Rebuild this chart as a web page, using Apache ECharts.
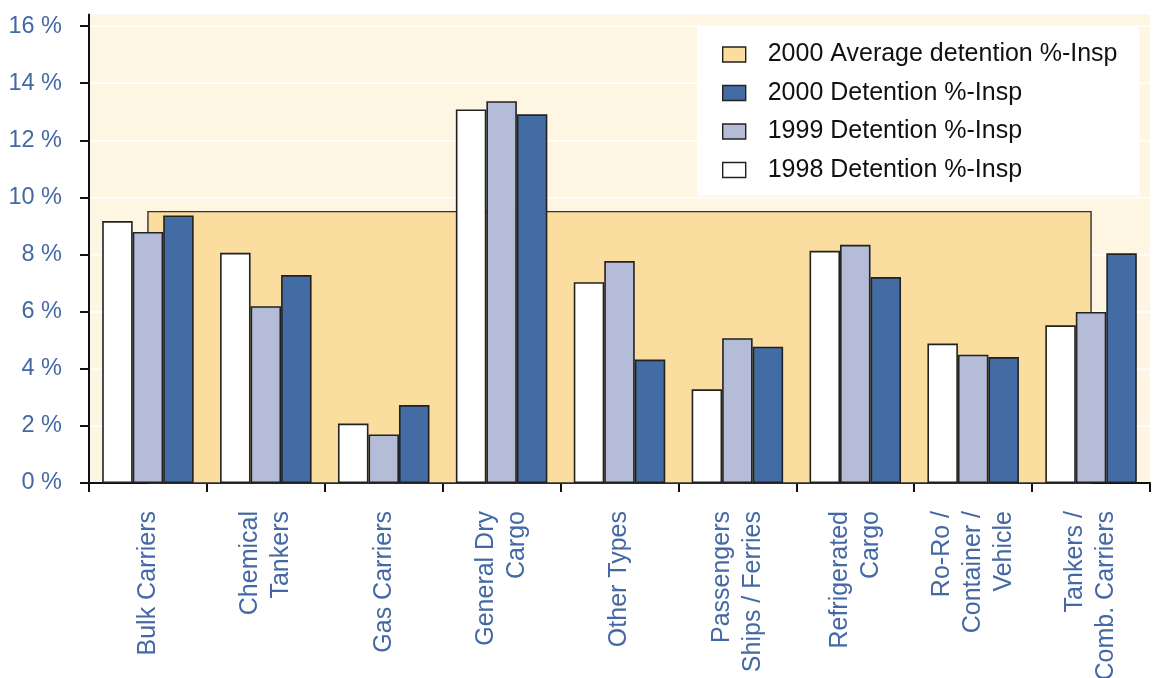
<!DOCTYPE html>
<html>
<head>
<meta charset="utf-8">
<script src="https://cdn.jsdelivr.net/npm/echarts@6/dist/echarts.min.js"></script>
<style>
  html, body { margin: 0; padding: 0; background: #ffffff; }
  #chart { width: 1154px; height: 678px; }
</style>
</head>
<body>
<div id="chart"></div>
<script>
// Ship types (line breaks are part of the axis labels)
const categories = [
  'Bulk Carriers',
  'Chemical\nTankers',
  'Gas Carriers',
  'General Dry\nCargo',
  'Other Types',
  'Passengers\nShips / Ferries',
  'Refrigerated\nCargo',
  'Ro-Ro /\nContainer /\nVehicle',
  'Tankers /\nComb. Carriers'
];

// Detention rate as % of inspections
const detention1998 = [9.17, 8.06, 2.08, 13.08, 7.03, 3.28, 8.13, 4.88, 5.52];
const detention1999 = [8.79, 6.19, 1.70, 13.37, 7.77, 5.07, 8.34, 4.49, 5.99];
const detention2000 = [9.37, 7.28, 2.73, 12.91, 4.32, 4.77, 7.21, 4.41, 8.04];
const average2000   = [9.5, 9.5, 9.5, 9.5, 9.5, 9.5, 9.5, 9.5, 9.5];

const yTicks = [0, 2, 4, 6, 8, 10, 12, 14, 16];

const seriesNames = {
  avg: '2000 Average detention %-Insp',
  d2000: '2000 Detention %-Insp',
  d1999: '1999 Detention %-Insp',
  d1998: '1998 Detention %-Insp'
};

const FONT = '"Liberation Sans", Arial, Helvetica, sans-serif';
const LABEL_BLUE = '#4468a6';
const EDGE = '#222222';

const chart = echarts.init(document.getElementById('chart'), null, { renderer: 'canvas' });

const barStyle = (fill) => ({ color: fill, borderColor: EDGE, borderWidth: 1.6 });

chart.setOption({
  animation: false,
  backgroundColor: '#ffffff',
  textStyle: { fontFamily: FONT },
  grid: {
    left: 89, right: 4, top: 14.6, bottom: 195,
    show: true,
    backgroundColor: '#fef5e3',
    borderWidth: 0,
    outerBoundsMode: 'none'
  },
  legend: {
    orient: 'vertical',
    left: 697, top: 27,
    padding: [15, 22, 13, 25],
    backgroundColor: '#ffffff',
    itemWidth: 23, itemHeight: 15,
    itemGap: 13.5,
    icon: 'rect',
    itemStyle: { borderColor: EDGE, borderWidth: 1.4 },
    textStyle: { fontFamily: FONT, fontSize: 25, lineHeight: 24, color: '#111111', padding: [0, 0, 0, 17] },
    data: [seriesNames.avg, seriesNames.d2000, seriesNames.d1999, seriesNames.d1998]
  },
  xAxis: {
    type: 'category',
    data: categories,
    boundaryGap: true,
    axisLine: { show: true, lineStyle: { color: '#111111', width: 2 } },
    axisTick: { show: true, inside: false, length: 9, lineStyle: { color: '#111111', width: 2 } },
    axisLabel: {
      interval: 0,
      rotate: 90,
      margin: 28,
      fontFamily: FONT,
      fontSize: 25,
      lineHeight: 31,
      color: LABEL_BLUE
    },
    splitLine: { show: false }
  },
  yAxis: {
    type: 'value',
    min: 0,
    max: 16.4,
    interval: 2,
    axisLine: { show: true, lineStyle: { color: '#111111', width: 2 } },
    axisTick: { show: true, length: 9, customValues: yTicks, lineStyle: { color: '#111111', width: 2 } },
    axisLabel: {
      customValues: yTicks,
      margin: 27,
      fontFamily: FONT,
      fontSize: 23.5,
      color: LABEL_BLUE,
      formatter: (v) => v + ' %'
    },
    splitLine: { show: true, lineStyle: { color: '#ffffff', width: 1.5 } }
  },
  series: [
    {
      // Average level drawn as one outlined block spanning the category centres
      name: seriesNames.avg,
      type: 'custom',
      z: 1,
      itemStyle: { color: '#fadd9f', borderColor: EDGE, borderWidth: 1.4 },
      data: average2000.map((v, i) => [i, v]),
      renderItem: function (params, api) {
        if (params.dataIndex !== 0) return null;
        const last = average2000.length - 1;
        const pts = [api.coord([0, 0])];
        average2000.forEach((v, i) => pts.push(api.coord([i, v])));
        pts.push(api.coord([last, 0]));
        return {
          type: 'polygon',
          shape: { points: pts },
          style: { fill: '#fadd9f', stroke: '#333333', lineWidth: 1.4 }
        };
      }
    },
    {
      name: seriesNames.d1998,
      type: 'bar',
      z: 2,
      data: detention1998,
      barWidth: 30.5,
      barGap: '0%',
      itemStyle: barStyle('#ffffff')
    },
    {
      name: seriesNames.d1999,
      type: 'bar',
      z: 2,
      data: detention1999,
      barWidth: 30.5,
      barGap: '0%',
      itemStyle: barStyle('#b4bcd7')
    },
    {
      name: seriesNames.d2000,
      type: 'bar',
      z: 2,
      data: detention2000,
      barWidth: 30.5,
      barGap: '0%',
      itemStyle: barStyle('#436ba4')
    }
  ]
});
</script>
</body>
</html>
